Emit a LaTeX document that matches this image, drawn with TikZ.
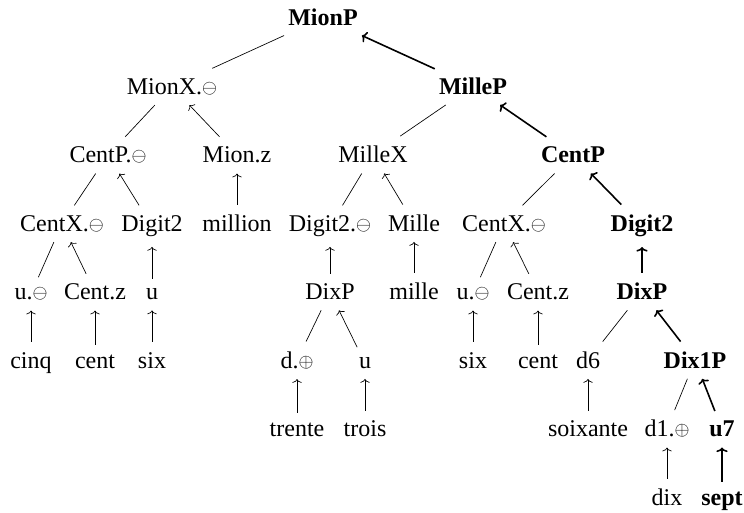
\documentclass[tikz,border=0pt]{standalone}
\usepackage{fontspec}
\setmainfont{Liberation Serif}
\usetikzlibrary{arrows.meta}
\newcommand{\myom}{\raisebox{1pt}{\fontsize{13.5}{12}\selectfont$\ominus$}}
\newcommand{\myop}{\raisebox{1pt}{\fontsize{13.5}{12}\selectfont$\oplus$}}
\begin{document}
\begin{tikzpicture}[x=0.75pt,y=-0.75pt,
  every node/.style={font=\fontsize{18}{20}\selectfont, inner xsep=3pt, inner ysep=7.5pt, anchor=base},
  hd/.style={font=\fontsize{18}{20}\selectfont\bfseries},
  ln/.style={line width=0.5pt},
  ar/.style={{To[length=2.8pt,width=7pt]}-, line width=0.5pt},
  bar/.style={{To[length=3.4pt,width=8.5pt]}-, line width=1.2pt}]
\useasboundingbox (0,0) rectangle (744,513);
% row 0
\node[hd] (mionP) at (323,26) {MionP};
% row 1
\node (mionX) at (172,94.5) {MionX.\myom};
\node[hd] (milleP) at (473,94.5) {MilleP};
% row 2
\node (centPm) at (108,163) {CentP.\myom};
\node (mionz) at (237,163) {Mion.z};
\node (milleX) at (373,163) {MilleX};
\node[hd] (centP) at (573,163) {CentP};
% row 3
\node (centXa) at (62,231.5) {CentX.\myom};
\node (digA) at (152,231.5) {Digit2};
\node (million) at (237,231.5) {million};
\node (digB) at (330,231.5) {Digit2.\myom};
\node (mille1) at (414,231.5) {Mille};
\node (centXb) at (504,231.5) {CentX.\myom};
\node[hd] (digC) at (642,231.5) {Digit2};
% row 4
\node (uA) at (31,300) {u.\myom};
\node (centzA) at (95,300) {Cent.z};
\node (uB) at (152,300) {u};
\node (dixPA) at (330,300) {DixP};
\node (mille2) at (414,300) {mille};
\node (uC) at (473,300) {u.\myom};
\node (centzB) at (538,300) {Cent.z};
\node[hd] (dixPB) at (642,300) {DixP};
% row 5
\node (cinq) at (31,368.5) {cinq};
\node (centA) at (95,368.5) {cent};
\node (sixA) at (152,368.5) {six};
\node (dA) at (297,368.5) {d.\myop};
\node (uD) at (365,368.5) {u};
\node (sixB) at (473,368.5) {six};
\node (centB) at (538,368.5) {cent};
\node (d6) at (588,368.5) {d6};
\node[hd] (dix1P) at (695,368.5) {Dix1P};
% row 6
\node (trente) at (297,437) {trente};
\node (trois) at (365,437) {trois};
\node (soix) at (588,437) {soixante};
\node (d1) at (667,437) {d1.\myop};
\node[hd] (u7) at (722,437) {u7};
% row 7
\node (dix) at (667,505.5) {dix};
\node[hd] (sept) at (722,505.5) {sept};
% edges
\draw[ln] (mionP) -- (mionX);
\draw[bar] (mionP) -- (milleP);
\draw[ln] (mionX) -- (centPm);
\draw[ar] (mionX) -- (mionz);
\draw[ln] (centPm) -- (centXa);
\draw[ar] (centPm) -- (digA);
\draw[ln] (centXa) -- (uA);
\draw[ar] (centXa) -- (centzA);
\draw[ar] (uA) -- (cinq);
\draw[ar] (centzA) -- (centA);
\draw[ar] (digA) -- (uB);
\draw[ar] (uB) -- (sixA);
\draw[ar] (mionz) -- (million);
\draw[ln] (milleP) -- (milleX);
\draw[bar] (milleP) -- (centP);
\draw[ln] (milleX) -- (digB);
\draw[ar] (milleX) -- (mille1);
\draw[ar] (digB) -- (dixPA);
\draw[ln] (dixPA) -- (dA);
\draw[ar] (dixPA) -- (uD);
\draw[ar] (dA) -- (trente);
\draw[ar] (uD) -- (trois);
\draw[ar] (mille1) -- (mille2);
\draw[ln] (centP) -- (centXb);
\draw[bar] (centP) -- (digC);
\draw[ln] (centXb) -- (uC);
\draw[ar] (centXb) -- (centzB);
\draw[ar] (uC) -- (sixB);
\draw[ar] (centzB) -- (centB);
\draw[bar] (digC) -- (dixPB);
\draw[ln] (dixPB) -- (d6);
\draw[bar] (dixPB) -- (dix1P);
\draw[ar] (d6) -- (soix);
\draw[ln] (dix1P) -- (d1);
\draw[bar] (dix1P) -- (u7);
\draw[ar] (d1) -- (dix);
\draw[bar] (u7) -- (sept);
\end{tikzpicture}
\end{document}
